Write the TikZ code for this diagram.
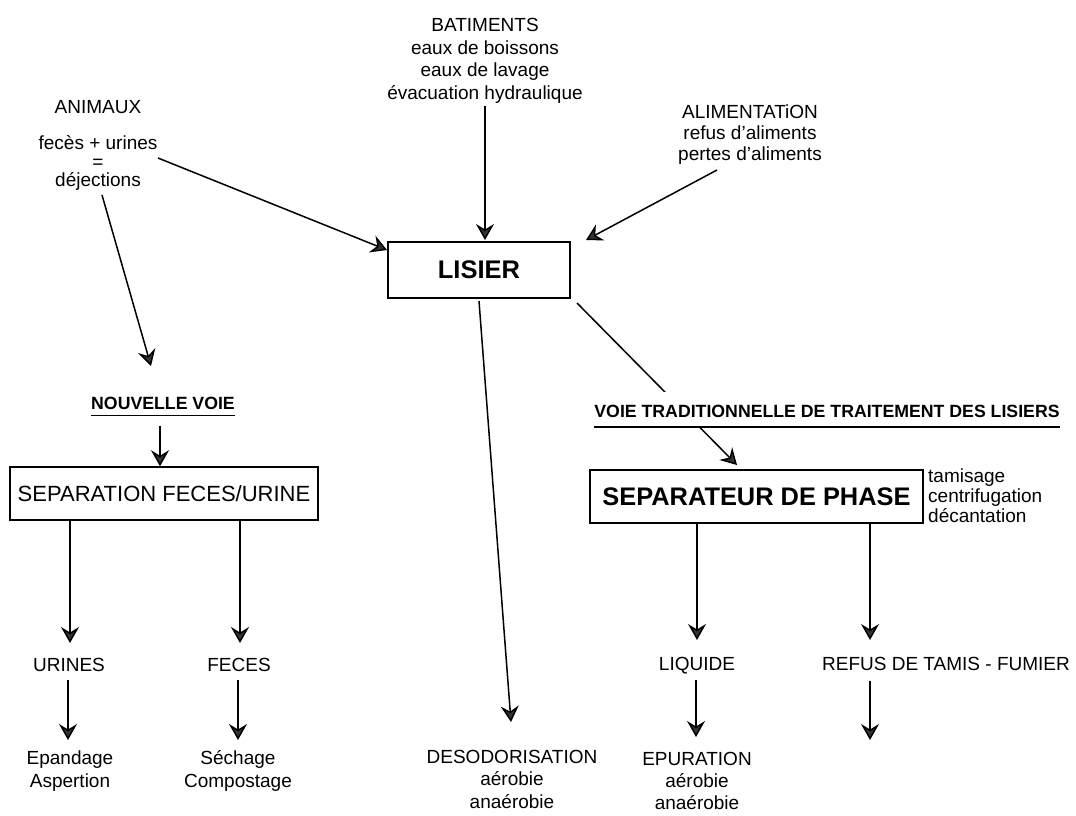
\documentclass[tikz,border=0pt]{standalone}
\usepackage{fontspec}
\setmainfont{Liberation Sans}
\usetikzlibrary{arrows.meta}
\begin{document}
\begin{tikzpicture}[x=1pt,y=-1pt,
  txt/.style={anchor=base, align=center, inner sep=0pt, font=\fontsize{19}{23}\selectfont},
  lbl/.style={anchor=base, inner sep=0pt, font=\fontsize{17.7}{21}\selectfont\bfseries},
  box/.style={draw, line width=1.5pt, inner sep=0pt},
  arr/.style={line width=1.5pt, -{Stealth[length=16pt,width=18pt,inset=5.5pt,fill=black!80]}},
  uline/.style={line width=1.2pt}]
\useasboundingbox (0,0) rectangle (1076,815);

% sources (base anchor = baseline of last line)
\node[txt] (animaux) at (98,113.5) {ANIMAUX};
\node[txt] (feces) at (98,149) {fecès + urines};
\node[txt] (egal) at (98,168.5) {=};
\node[txt] (dej) at (98,186) {déjections};
\node[txt, font=\fontsize{19}{22.7}\selectfont] (bat) at (485,99.5) {BATIMENTS\\eaux de boissons\\eaux de lavage\\évacuation hydraulique};
\node[txt, font=\fontsize{19}{20.7}\selectfont] (alim) at (750,160) {ALIMENTATiON\\refus d'aliments\\pertes d'aliments};

% LISIER
\node[box, minimum width=182pt, minimum height=56pt, font=\fontsize{25.5}{28}\selectfont\bfseries] (lisier) at (479,270) {LISIER};

% left branch
\node[lbl] (nv) at (163,409.5) {NOUVELLE VOIE};
\draw[uline] ([yshift=-6pt]nv.base west) -- ([yshift=-6pt]nv.base east);
\node[box, minimum width=308pt, minimum height=53pt, font=\fontsize{22}{24}\selectfont] (sepfu) at (164,493.5) {SEPARATION FECES/URINE};
\node[txt] (urines) at (69,671) {URINES};
\node[txt] (fec) at (239,671) {FECES};
\node[txt] (epand) at (70,787) {Epandage\\Aspertion};
\node[txt] (sech) at (238,787) {Séchage\\Compostage};

% middle
\node[txt, font=\fontsize{19}{22.5}\selectfont] (deso) at (512,808) {DESODORISATION\\aérobie\\anaérobie};

% right branch
\node[box, minimum width=333pt, minimum height=53pt, font=\fontsize{25.4}{28}\selectfont\bfseries] (sepph) at (756.5,496.5) {SEPARATEUR DE PHASE};
\node[txt, align=left, anchor=base west, font=\fontsize{19}{20}\selectfont] (meth) at (928,522) {tamisage\\centrifugation\\décantation};
\node[txt] (liq) at (697,670) {LIQUIDE};
\node[txt] (refus) at (946,670) {REFUS DE TAMIS - FUMIER};
\node[txt, font=\fontsize{19}{22}\selectfont] (epur) at (697,809) {EPURATION\\aérobie\\anaérobie};

% coordinates of free ends
\coordinate (a1s) at (158,158);
\coordinate (a1e) at (387,250);
\coordinate (a2s) at (102,195);
\coordinate (a2e) at (151,366);
\coordinate (a3s) at (485,106);
\coordinate (a3e) at (485,240);
\coordinate (a4s) at (717,170);
\coordinate (a4e) at (586,240);
\coordinate (a5s) at (479,301);
\coordinate (a5e) at (511,722);
\coordinate (a6s) at (577,303);
\coordinate (a6e) at (737,465);
\coordinate (refusend) at (870,740);

% connectors
\draw[arr] (a1s) -- (a1e);
\draw[arr] (a2s) -- (a2e);
\draw[arr] (a3s) -- (a3e);
\draw[arr] (a4s) -- (a4e);
\draw[arr] (a5s) -- (a5e);
\draw[arr] (a6s) -- (a6e);

% label over the traditional path
\node[lbl, fill=white, text height=25pt, text depth=10pt] (vt) at (827,417) {VOIE TRADITIONNELLE DE TRAITEMENT DES LISIERS};
\draw[uline] ([yshift=-10pt]vt.base west) -- ([yshift=-10pt]vt.base east);

\draw[arr] (nv.base -| 160,0) ++(0,16) -- (sepfu.north -| 160,0);
\draw[arr] (sepfu.south -| 70,0) -- (70,643);
\draw[arr] (sepfu.south -| 240,0) -- (240,643);
\draw[arr] (urines.base -| 68,0) ++(0,9) -- (68,740);
\draw[arr] (fec.base -| 238,0) ++(0,9) -- (238,740);
\draw[arr] (sepph.south -| 697,0) -- (697,640);
\draw[arr] (sepph.south -| 870,0) -- (870,640);
\draw[arr] (liq.base -| 696,0) ++(0,10) -- (696,737);
\draw[arr] (refus.base -| 870,0) ++(0,11) -- (refusend);
\end{tikzpicture}
\end{document}
